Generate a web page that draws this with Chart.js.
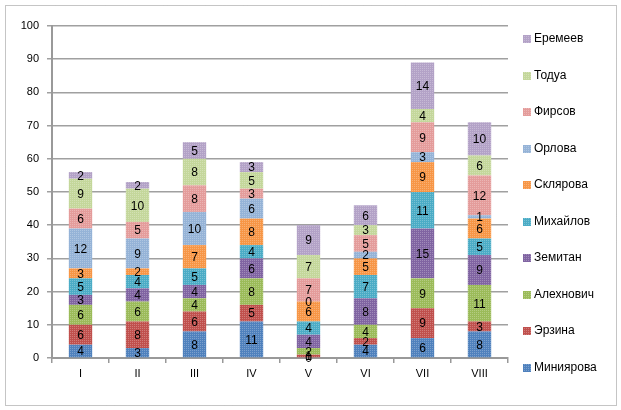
<!DOCTYPE html>
<html>
<head>
<meta charset="utf-8">
<script src="https://cdn.jsdelivr.net/npm/chart.js@4.4.1/dist/chart.umd.min.js"></script>
<style>
  body { margin: 0; background: #fff; }
  #wrap { position: relative; width: 621px; height: 410px; }
</style>
</head>
<body>
<div id="wrap"><canvas id="chart" width="621" height="410"></canvas></div>
<script>
// categories and series (bottom to top of each stack)
var categories = ['I', 'II', 'III', 'IV', 'V', 'VI', 'VII', 'VIII'];
var names = ['Миниярова', 'Эрзина', 'Алехнович', 'Земитан', 'Михайлов',
             'Склярова', 'Орлова', 'Фирсов', 'Тодуа', 'Еремеев'];

var minijarova = [4, 3, 8, 11, 0, 4, 6, 8];
var erzina     = [6, 8, 6, 5, 1, 2, 9, 3];
var alehnovich = [6, 6, 4, 8, 2, 4, 9, 11];
var zemitan    = [3, 4, 4, 6, 4, 8, 15, 9];
var mihajlov   = [5, 4, 5, 4, 4, 7, 11, 5];
var skljarova  = [3, 2, 7, 8, 6, 5, 9, 6];
var orlova     = [12, 9, 10, 6, 0, 2, 3, 1];
var firsov     = [6, 5, 8, 3, 7, 5, 9, 12];
var todua      = [9, 10, 8, 5, 7, 3, 4, 6];
var eremeev    = [2, 2, 5, 3, 9, 6, 14, 10];

var yTicks = [0, 10, 20, 30, 40, 50, 60, 70, 80, 90, 100];

var series = [minijarova, erzina, alehnovich, zemitan, mihajlov,
              skljarova, orlova, firsov, todua, eremeev];
var colors = ['#4F81BD', '#C0504D', '#9BBB59', '#8064A2', '#4BACC6',
              '#F79646', '#95B3D7', '#E49C9B', '#C4D79B', '#B3A2C7'];

// fine dotted texture like the excel fill
function texture(color) {
  var c = document.createElement('canvas');
  c.width = 2; c.height = 2;
  var g = c.getContext('2d');
  g.fillStyle = color;
  g.fillRect(0, 0, 2, 2);
  g.fillStyle = 'rgba(255,255,255,0.25)';
  g.fillRect(0, 0, 1, 1);
  return g.createPattern(c, 'repeat');
}

var datasets = [];
for (var i = 0; i < series.length; i++) {
  datasets.push({
    label: names[i],
    data: series[i],
    backgroundColor: texture(colors[i]),
    borderWidth: 0,
    barPercentage: 0.41,
    categoryPercentage: 1
  });
}

var frame = {
  id: 'frame',
  beforeDraw: function(chart) {
    var ctx = chart.ctx;
    ctx.save();
    ctx.strokeStyle = '#8a8a8a';
    ctx.lineWidth = 1;
    ctx.setLineDash([1, 1]);
    ctx.strokeRect(5.5, 5.5, 611, 400);
    ctx.restore();
  }
};

var valueLabels = {
  id: 'valueLabels',
  afterDatasetsDraw: function(chart) {
    var ctx = chart.ctx;
    ctx.save();
    ctx.font = '12px "Liberation Sans", Arial, sans-serif';
    ctx.fillStyle = '#000';
    ctx.textAlign = 'center';
    ctx.textBaseline = 'middle';
    chart.data.datasets.forEach(function(ds, di) {
      var meta = chart.getDatasetMeta(di);
      meta.data.forEach(function(bar, j) {
        var p = bar.getProps(['x', 'y', 'base'], true);
        ctx.fillText(String(ds.data[j]), p.x, (p.y + p.base) / 2 + 1);
      });
    });
    ctx.restore();
  }
};

var sideLegend = {
  id: 'sideLegend',
  afterDraw: function(chart) {
    var ctx = chart.ctx;
    var ds = chart.data.datasets;
    ctx.save();
    ctx.font = '12px "Liberation Sans", Arial, sans-serif';
    ctx.textAlign = 'left';
    ctx.textBaseline = 'middle';
    for (var k = 0; k < ds.length; k++) {
      var d = ds[ds.length - 1 - k];
      var y = 39 + k * 36.5;
      ctx.fillStyle = d.backgroundColor;
      ctx.fillRect(523, Math.round(y - 4), 8, 8);
      ctx.fillStyle = '#000';
      ctx.fillText(d.label, 534, y);
    }
    ctx.restore();
  }
};

var ctx = document.getElementById('chart').getContext('2d');
var myChart = new Chart(ctx, {
  type: 'bar',
  data: { labels: categories, datasets: datasets },
  options: {
    responsive: false,
    animation: false,
    layout: { padding: { top: 26, left: 0, right: 113, bottom: 0 } },
    plugins: { legend: { display: false }, tooltip: { enabled: false } },
    scales: {
      x: {
        stacked: true,
        afterFit: function(s) { s.height = 52; },
        grid: { drawOnChartArea: false, drawTicks: true, tickLength: 5, color: '#999', lineWidth: 1.5 },
        border: { color: '#999', width: 2 },
        ticks: { color: '#000', padding: 4, font: { family: '"Liberation Sans", Arial, sans-serif', size: 11 } }
      },
      y: {
        stacked: true,
        min: 0,
        max: 100,
        afterFit: function(s) { s.width = 52; },
        afterBuildTicks: function(s) { s.ticks = yTicks.map(function(v) { return { value: v }; }); },
        grid: { color: '#a0a0a0', lineWidth: 1.5, tickLength: 5 },
        border: { color: '#999', width: 2 },
        ticks: { color: '#000', padding: 8, font: { family: '"Liberation Sans", Arial, sans-serif', size: 11 } }
      }
    }
  },
  plugins: [frame, valueLabels, sideLegend]
});
</script>
</body>
</html>
